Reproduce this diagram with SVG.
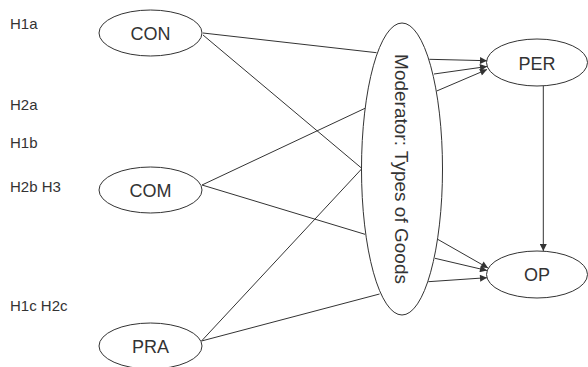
<svg xmlns="http://www.w3.org/2000/svg" width="588" height="367" viewBox="0 0 588 367">
<defs>
<style>
.n{fill:#fff;stroke:#333;stroke-width:1}
.t{font-family:"Liberation Sans",Arial,sans-serif;fill:#333}
.lbl{font-size:15px}
.nt{font-size:18px;text-anchor:middle}
.c{stroke:#333;stroke-width:1;fill:none}
.a{marker-end:url(#ah)}
</style>
<marker id="ah" viewBox="0 0 10 10" refX="10" refY="5" markerWidth="9" markerHeight="7" markerUnits="userSpaceOnUse" orient="auto">
<path d="M0,0 L10,5 L0,10 z" fill="#333"/>
</marker>
</defs>
<rect width="588" height="367" fill="#fff"/>
<g id="labels" class="t lbl">
<text x="10" y="29">H1a</text>
<text x="10" y="110">H2a</text>
<text x="10" y="148">H1b</text>
<text x="10" y="192">H2b H3</text>
<text x="10" y="311">H1c H2c</text>
</g>
<g id="connectors">
<line class="c" x1="203" y1="33" x2="376.5" y2="52.7"/>
<line class="c" x1="203" y1="35" x2="362" y2="168.5"/>
<line class="c" x1="202" y1="185" x2="365" y2="108.3"/>
<line class="c" x1="202" y1="185" x2="365" y2="234.3"/>
<line class="c" x1="201.5" y1="341" x2="362" y2="168.5"/>
<line class="c" x1="201.5" y1="341" x2="379.5" y2="294"/>
<line class="c a" x1="429.3" y1="59.3" x2="487" y2="60.7"/>
<line class="c a" x1="434" y1="74" x2="487" y2="66.5"/>
<line class="c a" x1="436.7" y1="91" x2="487" y2="69.5"/>
<line class="c a" x1="437.7" y1="239.3" x2="488" y2="268"/>
<line class="c a" x1="435" y1="258.3" x2="487" y2="270.5"/>
<line class="c a" x1="428.3" y1="281.7" x2="487" y2="277.7"/>
<line class="c a" x1="543.3" y1="86" x2="543.3" y2="251"/>
</g>
<g id="moderator">
<ellipse class="n" cx="402" cy="169" rx="40.5" ry="146"/>
<text class="t" font-size="19" text-anchor="middle" transform="translate(395,169) rotate(90)">Moderator: Types of Goods</text>
</g>
<g id="CON">
<ellipse class="n" cx="150.5" cy="33" rx="51.5" ry="23"/>
<text class="t nt" x="150.5" y="40">CON</text>
</g>
<g id="COM">
<ellipse class="n" cx="150.5" cy="190" rx="51.5" ry="23"/>
<text class="t nt" x="150.5" y="197">COM</text>
</g>
<g id="PRA">
<ellipse class="n" cx="150.5" cy="346" rx="51.5" ry="23"/>
<text class="t nt" x="150.5" y="353">PRA</text>
</g>
<g id="PER">
<ellipse class="n" cx="537" cy="62.5" rx="50.5" ry="23.5"/>
<text class="t nt" x="537" y="70">PER</text>
</g>
<g id="OP">
<ellipse class="n" cx="537" cy="274.5" rx="50.5" ry="23.5"/>
<text class="t nt" x="537" y="281">OP</text>
</g>
</svg>
